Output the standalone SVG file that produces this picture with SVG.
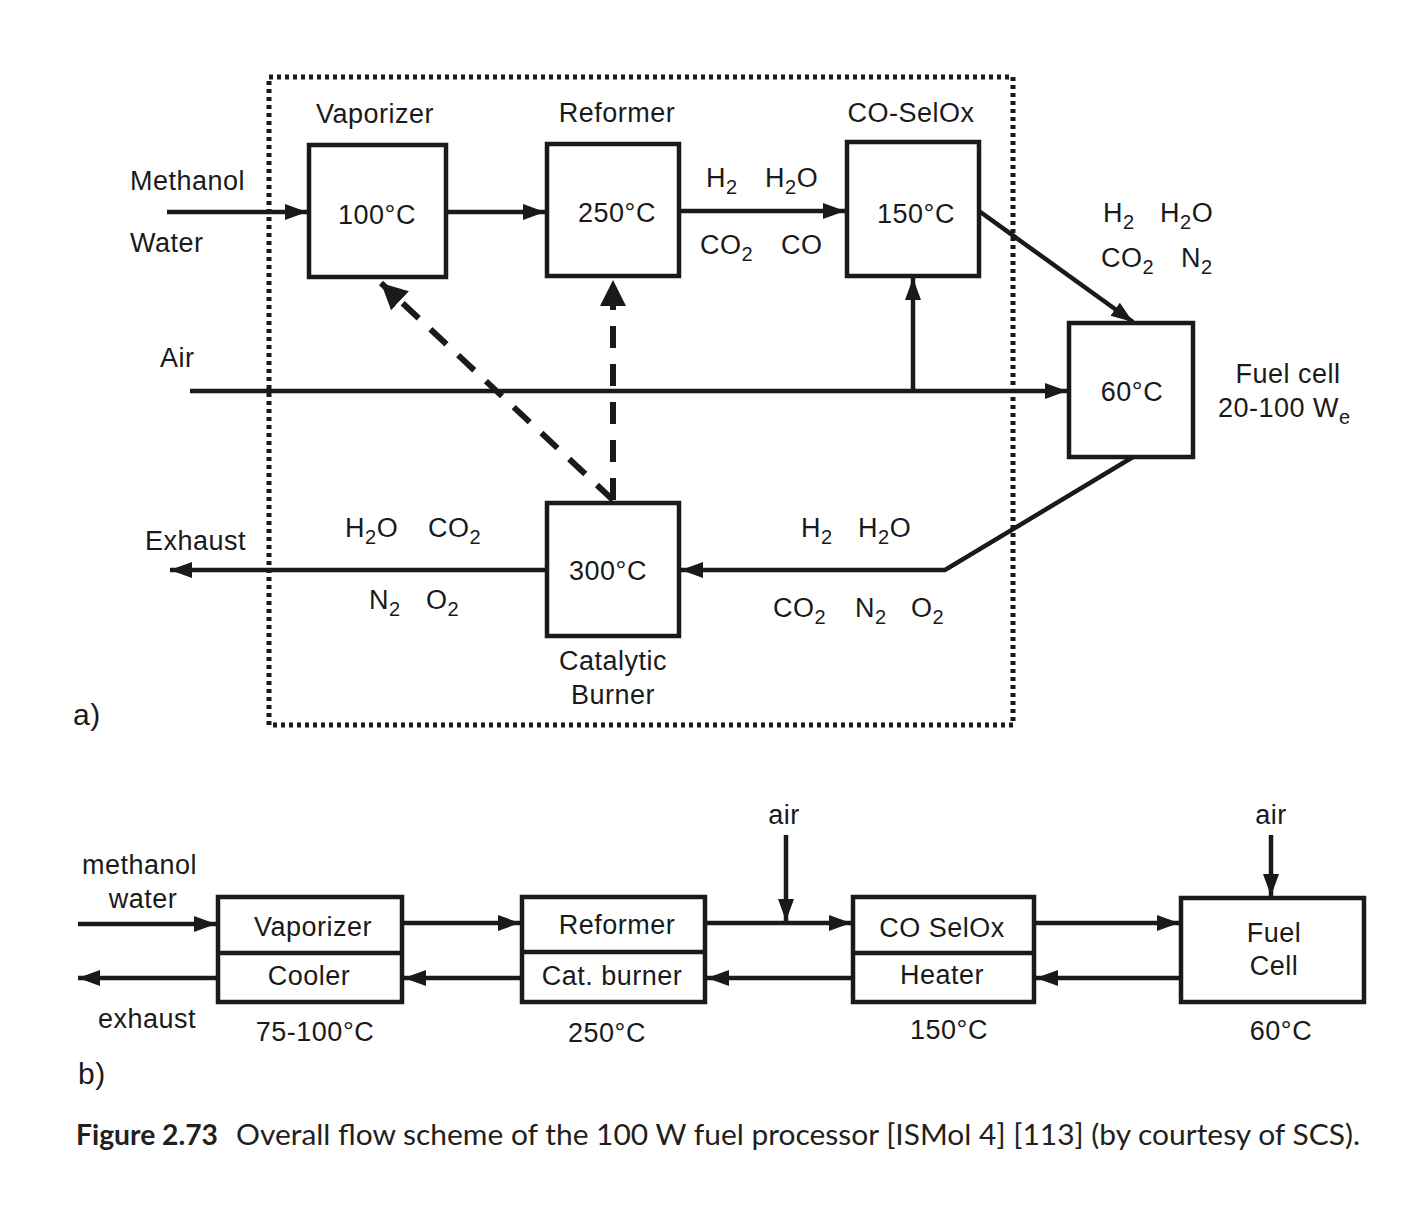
<svg xmlns="http://www.w3.org/2000/svg" width="1413" height="1205" viewBox="0 0 1413 1205">
<style>
text{font-family:"Liberation Sans",Arial,sans-serif;font-size:27px;fill:#1a1a1a;letter-spacing:0.5px}
.m{text-anchor:middle}
.s{font-size:20px}
.box{fill:none;stroke:#1a1a1a;stroke-width:4.5}
.ln{fill:none;stroke:#1a1a1a;stroke-width:4.5}
.dash{fill:none;stroke:#1a1a1a;stroke-width:6;stroke-dasharray:22 16}
.cap{font-family:Lato,"Open Sans",sans-serif;font-size:28px;letter-spacing:0;fill:#231f20}
</style>
<defs>
<marker id="ah" markerUnits="userSpaceOnUse" markerWidth="24" markerHeight="18" refX="22" refY="9" orient="auto"><path d="M0,1 L22,9 L0,17 z" fill="#1a1a1a"/></marker>
<marker id="ahb" markerUnits="userSpaceOnUse" markerWidth="28" markerHeight="26" refX="26" refY="13" orient="auto"><path d="M0,0 L26,13 L0,26 z" fill="#1a1a1a"/></marker>
</defs>
<rect width="1413" height="1205" fill="#fff"/>

<rect id="boundary" x="269" y="77" width="744" height="648" fill="none" stroke="#1a1a1a" stroke-width="5" stroke-dasharray="4 4"/>

<g id="connectors">
<line class="ln" x1="167" y1="212" x2="307" y2="212" marker-end="url(#ah)"/>
<line class="ln" x1="446" y1="212" x2="545" y2="212" marker-end="url(#ah)"/>
<line class="ln" x1="679" y1="211" x2="845" y2="211" marker-end="url(#ah)"/>
<line class="ln" x1="979" y1="211" x2="1133" y2="322" marker-end="url(#ah)"/>
<line class="ln" x1="190" y1="391" x2="1067" y2="391" marker-end="url(#ah)"/>
<line class="ln" x1="913" y1="391" x2="913" y2="278" marker-end="url(#ah)"/>
<polyline class="ln" points="1133,457 945,570 681,570" marker-end="url(#ah)"/>
<line class="ln" x1="547" y1="570" x2="170" y2="570" marker-end="url(#ah)"/>
<line class="dash" x1="613" y1="500" x2="381" y2="283" marker-end="url(#ahb)"/>
<line class="dash" x1="613" y1="500" x2="613" y2="280" marker-end="url(#ahb)"/>

<line class="ln" x1="78" y1="924" x2="216" y2="924" marker-end="url(#ah)"/>
<line class="ln" x1="218" y1="978" x2="78" y2="978" marker-end="url(#ah)"/>
<line class="ln" x1="402" y1="923" x2="520" y2="923" marker-end="url(#ah)"/>
<line class="ln" x1="522" y1="978" x2="404" y2="978" marker-end="url(#ah)"/>
<line class="ln" x1="705" y1="923" x2="851" y2="923" marker-end="url(#ah)"/>
<line class="ln" x1="786" y1="835" x2="786" y2="921" marker-end="url(#ah)"/>
<line class="ln" x1="853" y1="978" x2="707" y2="978" marker-end="url(#ah)"/>
<line class="ln" x1="1034" y1="923" x2="1179" y2="923" marker-end="url(#ah)"/>
<line class="ln" x1="1181" y1="978" x2="1036" y2="978" marker-end="url(#ah)"/>
<line class="ln" x1="1271" y1="835" x2="1271" y2="896" marker-end="url(#ah)"/>
</g>

<g id="vaporizer">
<rect class="box" x="309" y="145" width="137" height="132"/>
<text class="m" x="375" y="123">Vaporizer</text>
<text class="m" x="377" y="224">100°C</text>
</g>
<g id="reformer">
<rect class="box" x="547" y="144" width="132" height="132"/>
<text class="m" x="617" y="122">Reformer</text>
<text class="m" x="617" y="222">250°C</text>
</g>
<g id="coselox">
<rect class="box" x="847" y="142" width="132" height="134"/>
<text class="m" x="911" y="122">CO-SelOx</text>
<text class="m" x="916" y="223">150°C</text>
</g>
<g id="fuelcell">
<rect class="box" x="1069" y="323" width="124" height="134"/>
<text class="m" x="1132" y="401">60°C</text>
<text class="m" x="1288" y="383">Fuel cell</text>
<text x="1218" y="417">20-100 W<tspan class="s" dy="7">e</tspan></text>
</g>
<g id="burner">
<rect class="box" x="547" y="503" width="132" height="133"/>
<text class="m" x="608" y="580">300°C</text>
<text class="m" x="613" y="670">Catalytic</text>
<text class="m" x="613" y="704">Burner</text>
</g>

<g id="labels-a">
<text x="130" y="190">Methanol</text>
<text x="130" y="252">Water</text>
<text x="160" y="367">Air</text>
<text x="145" y="550">Exhaust</text>
<text x="73" y="725" style="font-size:30px">a)</text>
<text x="706" y="187">H<tspan class="s" dy="7">2</tspan></text>
<text x="765" y="187">H<tspan class="s" dy="7">2</tspan><tspan dy="-7">O</tspan></text>
<text x="700" y="254">CO<tspan class="s" dy="7">2</tspan></text>
<text x="781" y="254">CO</text>
<text x="1103" y="222">H<tspan class="s" dy="7">2</tspan></text>
<text x="1160" y="222">H<tspan class="s" dy="7">2</tspan><tspan dy="-7">O</tspan></text>
<text x="1101" y="267">CO<tspan class="s" dy="7">2</tspan></text>
<text x="1181" y="267">N<tspan class="s" dy="7">2</tspan></text>
<text x="345" y="537">H<tspan class="s" dy="7">2</tspan><tspan dy="-7">O</tspan></text>
<text x="428" y="537">CO<tspan class="s" dy="7">2</tspan></text>
<text x="369" y="609">N<tspan class="s" dy="7">2</tspan></text>
<text x="426" y="609">O<tspan class="s" dy="7">2</tspan></text>
<text x="801" y="537">H<tspan class="s" dy="7">2</tspan></text>
<text x="858" y="537">H<tspan class="s" dy="7">2</tspan><tspan dy="-7">O</tspan></text>
<text x="773" y="617">CO<tspan class="s" dy="7">2</tspan></text>
<text x="855" y="617">N<tspan class="s" dy="7">2</tspan></text>
<text x="911" y="617">O<tspan class="s" dy="7">2</tspan></text>
</g>

<g id="b-vaporizer">
<rect class="box" x="218" y="897" width="184" height="105"/>
<line class="box" x1="218" y1="953" x2="402" y2="953"/>
<text class="m" x="313" y="936">Vaporizer</text>
<text class="m" x="309" y="985">Cooler</text>
<text class="m" x="315" y="1041">75-100°C</text>
</g>
<g id="b-reformer">
<rect class="box" x="522" y="897" width="183" height="105"/>
<line class="box" x1="522" y1="952" x2="705" y2="952"/>
<text class="m" x="617" y="934">Reformer</text>
<text class="m" x="612" y="985">Cat. burner</text>
<text class="m" x="607" y="1042">250°C</text>
</g>
<g id="b-coselox">
<rect class="box" x="853" y="897" width="181" height="105"/>
<line class="box" x1="853" y1="953" x2="1034" y2="953"/>
<text class="m" x="942" y="937">CO SelOx</text>
<text class="m" x="942" y="984">Heater</text>
<text class="m" x="949" y="1039">150°C</text>
</g>
<g id="b-fuelcell">
<rect class="box" x="1181" y="898" width="183" height="104"/>
<text class="m" x="1274" y="942">Fuel</text>
<text class="m" x="1274" y="975">Cell</text>
<text class="m" x="1281" y="1040">60°C</text>
</g>
<g id="labels-b">
<text x="82" y="874">methanol</text>
<text class="m" x="143" y="908">water</text>
<text x="98" y="1028">exhaust</text>
<text class="m" x="784" y="824">air</text>
<text class="m" x="1271" y="824">air</text>
<text x="78" y="1084" style="font-size:30px">b)</text>
</g>

<g id="caption">
<text class="cap" x="76" y="1145" style="font-weight:bold" textLength="142" lengthAdjust="spacingAndGlyphs">Figure 2.73</text>
<text class="cap" x="236" y="1145" textLength="1124" lengthAdjust="spacingAndGlyphs">Overall flow scheme of the 100 W fuel processor [ISMol 4] [113] (by courtesy of SCS).</text>
</g>
</svg>
